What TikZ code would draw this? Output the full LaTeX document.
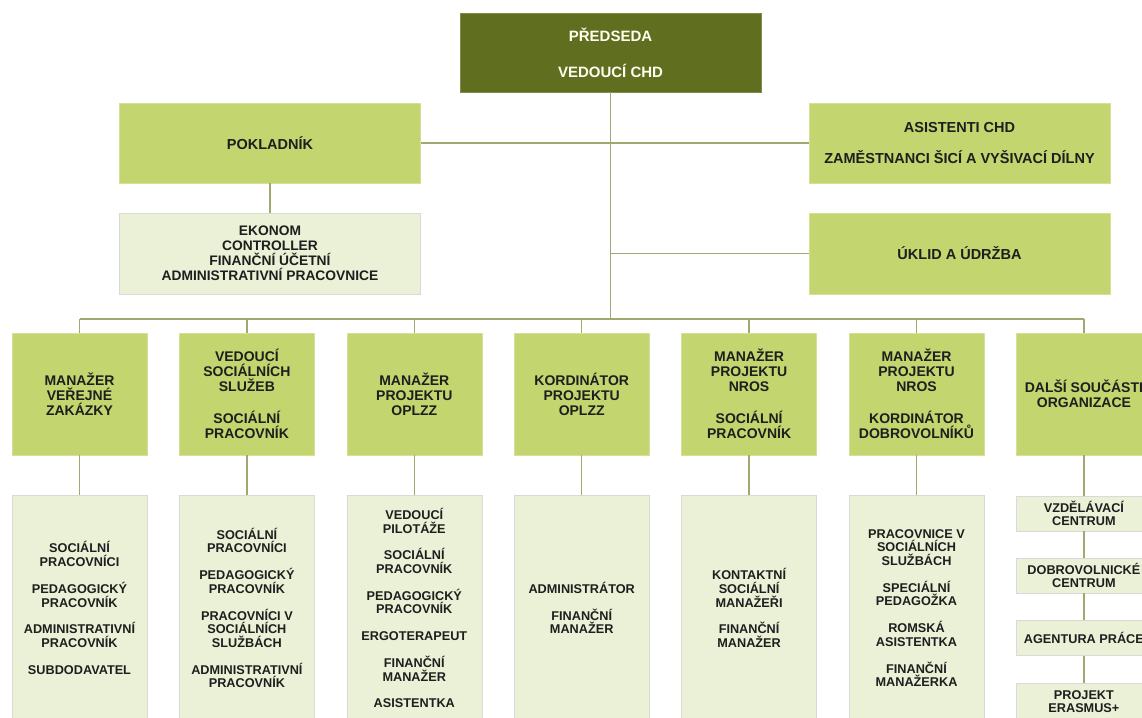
\documentclass[tikz,border=0pt]{standalone}
\usepackage{fontspec}
\setmainfont{Liberation Sans}

\definecolor{chdDark}{RGB}{95,111,31}
\definecolor{chdMid}{RGB}{194,213,110}
\definecolor{chdPale}{RGB}{235,241,214}
\definecolor{chdLine}{RGB}{162,168,112}
\definecolor{chdText}{RGB}{30,30,30}

\begin{document}
\begin{tikzpicture}[x=1pt,y=-1pt,
    box/.style={rectangle, inner sep=0pt, align=center, text=chdText},
    chairbox/.style={box, fill=chdDark, draw=chdDark!80!white, text=white!94!yellow,
      minimum width=301pt, minimum height=79pt, font=\fontsize{15}{16}\selectfont\bfseries},
    topbox/.style={box, fill=chdMid, draw=chdMid!70!white,
      minimum width=301pt, minimum height=80pt, font=\fontsize{14.5}{15}\selectfont\bfseries},
    subbox/.style={box, fill=chdPale, draw=black!15,
      minimum width=301pt, minimum height=81pt, font=\fontsize{13.8}{15}\selectfont\bfseries},
    headbox/.style={box, fill=chdMid, draw=chdMid!70!white,
      minimum width=135pt, minimum height=122pt, font=\fontsize{14}{15}\selectfont\bfseries},
    staffbox/.style={box, fill=chdPale, draw=black!15,
      minimum width=135pt, minimum height=226pt, font=\fontsize{12.7}{13.7}\selectfont\bfseries},
    unitbox/.style={staffbox, minimum height=35pt},
    link/.style={draw=chdLine, line width=1.3pt}]

    \useasboundingbox (0,0) rectangle (1142,717);
    \clip (0,0) rectangle (1142,717);

    % top of the organisation
    \node[chairbox] (chair) at (610.5,52.5) {PŘEDSEDA\\[20pt]VEDOUCÍ CHD};
    \node[topbox] (cashier) at (270,143) {POKLADNÍK};
    \node[topbox] (assist) at (959.5,143) {ASISTENTI CHD\\[16pt]ZAMĚSTNANCI ŠICÍ A VYŠIVACÍ DÍLNY};
    \node[subbox] (econ) at (270,253.5) {EKONOM\\CONTROLLER\\FINANČNÍ ÚČETNÍ\\ADMINISTRATIVNÍ PRACOVNICE};
    \node[topbox, minimum height=81pt] (clean) at (959.5,253.5) {ÚKLID A ÚDRŽBA};

    % heads of sections
    \node[headbox] (m1) at (79.5,394) {MANAŽER\\VEŘEJNÉ\\ZAKÁZKY};
    \node[headbox] (m2) at (246.9,394) {VEDOUCÍ\\SOCIÁLNÍCH\\SLUŽEB\\[17pt]SOCIÁLNÍ\\PRACOVNÍK};
    \node[headbox] (m3) at (414.3,394) {MANAŽER\\PROJEKTU\\OPLZZ};
    \node[headbox] (m4) at (581.7,394) {KORDINÁTOR\\PROJEKTU\\OPLZZ};
    \node[headbox] (m5) at (749.1,394) {MANAŽER\\PROJEKTU\\NROS\\[17pt]SOCIÁLNÍ\\PRACOVNÍK};
    \node[headbox] (m6) at (916.5,394) {MANAŽER\\PROJEKTU\\NROS\\[17pt]KORDINÁTOR\\DOBROVOLNÍKŮ};
    \node[headbox] (m7) at (1083.9,394) {DALŠÍ SOUČÁSTI\\ORGANIZACE};

    % staff of sections
    \node[staffbox] (s1) at (79.5,608) {SOCIÁLNÍ\\PRACOVNÍCI\\[13pt]PEDAGOGICKÝ\\PRACOVNÍK\\[13pt]ADMINISTRATIVNÍ\\PRACOVNÍK\\[13pt]SUBDODAVATEL};
    \node[staffbox] (s2) at (246.9,608) {SOCIÁLNÍ\\PRACOVNÍCI\\[13pt]PEDAGOGICKÝ\\PRACOVNÍK\\[13pt]PRACOVNÍCI V\\SOCIÁLNÍCH\\SLUŽBÁCH\\[13pt]ADMINISTRATIVNÍ\\PRACOVNÍK};
    \node[staffbox] (s3) at (414.3,608) {VEDOUCÍ\\PILOTÁŽE\\[13pt]SOCIÁLNÍ\\PRACOVNÍK\\[13pt]PEDAGOGICKÝ\\PRACOVNÍK\\[13pt]ERGOTERAPEUT\\[13pt]FINANČNÍ\\MANAŽER\\[13pt]ASISTENTKA};
    \node[staffbox] (s4) at (581.7,608) {ADMINISTRÁTOR\\[13pt]FINANČNÍ\\MANAŽER};
    \node[staffbox] (s5) at (749.1,608) {KONTAKTNÍ\\SOCIÁLNÍ\\MANAŽEŘI\\[13pt]FINANČNÍ\\MANAŽER};
    \node[staffbox] (s6) at (916.5,608) {PRACOVNICE V\\SOCIÁLNÍCH\\SLUŽBÁCH\\[13pt]SPECIÁLNÍ\\PEDAGOŽKA\\[13pt]ROMSKÁ\\ASISTENTKA\\[13pt]FINANČNÍ\\MANAŽERKA};

    % other parts
    \node[unitbox] (u1) at (1083.9,513.5) {VZDĚLÁVACÍ\\CENTRUM};
    \node[unitbox] (u2) at (1083.9,575.5) {DOBROVOLNICKÉ\\CENTRUM};
    \node[unitbox] (u3) at (1083.9,638) {AGENTURA PRÁCE};
    \node[unitbox, minimum height=37pt] (u4) at (1083.9,701.5) {PROJEKT\\ERASMUS+};

    % connectors
    \coordinate (bus) at (610.5,319);
    \draw[link] (chair) -- (bus);
    \draw[link] (cashier) -- (assist);
    \draw[link] (chair |- clean) -- (clean);
    \draw[link] (cashier) -- (econ);
    \draw[link] (m1 |- bus) -- (m7 |- bus);
    \foreach \i in {1,...,7}
      \draw[link] (m\i |- bus) -- (m\i);
    \foreach \i in {1,...,6}
      \draw[link] (m\i) -- (s\i);
    \draw[link] (m7) -- (u1) -- (u2) -- (u3) -- (u4);

\end{tikzpicture}
\end{document}
